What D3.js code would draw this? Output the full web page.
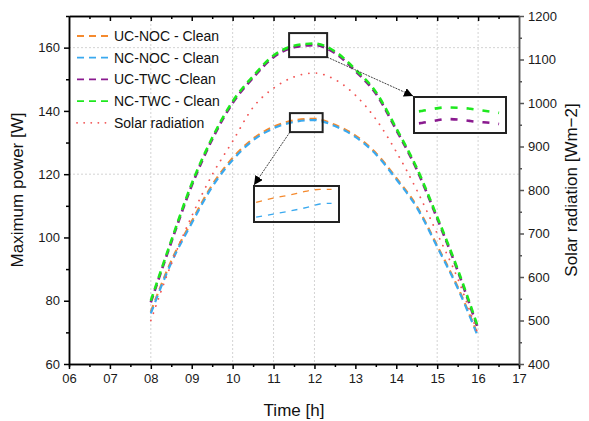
<!DOCTYPE html>
<html>
<head>
<meta charset="utf-8">
<script src="https://cdn.jsdelivr.net/npm/d3@7"></script>
<style>
  html, body { margin: 0; padding: 0; background: #fff; }
  svg { display: block; font-family: "Liberation Sans", Arial, sans-serif; }
</style>
</head>
<body>
<svg id="chart" width="589" height="421"></svg>
<script>
// ---------------- data ----------------
const times   = [8, 8.5, 9, 9.5, 10, 10.5, 11, 11.5, 12, 12.5, 13, 13.5, 14, 14.5, 15, 15.5, 16];
const ucNoc   = [76.5, 92.6, 105.1, 116.6, 125.1, 131.2, 135.0, 137.0, 137.5, 135.6, 132.2, 126.7, 118.8, 109.9, 97.4, 84.4, 69.0];
const ncNoc   = [76.0, 92.0, 104.5, 116.0, 124.5, 130.7, 134.5, 136.5, 137.1, 135.2, 131.8, 126.3, 118.4, 109.5, 97.0, 84.0, 68.6];
const ucTwc   = [79.5, 98.5, 116.4, 131.0, 142.5, 150.5, 157.0, 160.1, 160.8, 158.3, 152.6, 145.5, 134.0, 121.5, 106.0, 89.5, 71.0];
const ncTwc   = [80.0, 99.0, 117.0, 131.5, 143.0, 151.0, 157.5, 160.6, 161.3, 158.8, 153.1, 146.0, 134.5, 122.0, 106.5, 90.0, 71.5];
const solar   = [500, 630, 740, 835, 912, 990, 1034, 1060, 1069, 1054, 1018, 963, 888, 800, 700, 597, 467];

const seriesNames = ["UC-NOC - Clean", "NC-NOC - Clean", "UC-TWC -Clean", "NC-TWC - Clean", "Solar radiation"];

const xTicks      = [6, 7, 8, 9, 10, 11, 12, 13, 14, 15, 16, 17];
const xMinor      = [6.5, 7.5, 8.5, 9.5, 10.5, 11.5, 12.5, 13.5, 14.5, 15.5, 16.5];
const yLeftTicks  = [60, 80, 100, 120, 140, 160];
const yLeftMinor  = [70, 90, 110, 130, 150, 170];
const yRightTicks = [400, 500, 600, 700, 800, 900, 1000, 1100, 1200];
const yRightMinor = [450, 550, 650, 750, 850, 950, 1050, 1150];
const xGrid       = [8, 10, 11, 12, 15, 16];
const yGrid       = [120, 160];

// magnified inset views
const insetTopTimes = [11.43, 11.46, 11.67, 11.69, 11.93, 11.95, 12.18, 12.24];
const insetTopNC    = [161.0, 161.03, 161.27, 161.28, 161.20, 161.18, 160.96, 160.9];
const insetTopUC    = [160.17, 160.2, 160.45, 160.47, 160.35, 160.33, 160.18, 160.13];
const insetBotTimes = [11.42, 11.58, 11.74, 11.90, 12.02, 12.13];
const insetBotUC    = [136.82, 136.99, 137.13, 137.29, 137.36, 137.36];
const insetBotNC    = [136.20, 136.33, 136.46, 136.61, 136.75, 136.78];

// ---------------- layout ----------------
const L = 69, R = 519, T = 16, B = 364;
const colors = { ucNoc: "#f58a2e", ncNoc: "#3aa9ef", ucTwc: "#8a1a8f", ncTwc: "#1ee81e", solar: "#f25656" };

const svg = d3.select("#chart");
const x  = d3.scaleLinear().domain([6, 17]).range([L, R]);
const yL = d3.scaleLinear().domain([60, 170]).range([B, T]);
const yR = d3.scaleLinear().domain([400, 1200]).range([B, T]);

// grid
const grid = svg.append("g").attr("stroke", "#c8c8c8").attr("stroke-width", 0.8).attr("stroke-dasharray", "2,2");
grid.selectAll("line.vx").data(xGrid).join("line")
  .attr("x1", d => x(d)).attr("x2", d => x(d)).attr("y1", T).attr("y2", B);
grid.selectAll("line.hy").data(yGrid).join("line")
  .attr("x1", L).attr("x2", R).attr("y1", d => yL(d)).attr("y2", d => yL(d));

// axes
function styleAxis(g, color, width) {
  g.select(".domain").attr("stroke", color).attr("stroke-width", width);
  g.selectAll(".tick line").attr("stroke", color).attr("stroke-width", width);
  g.selectAll(".tick text").attr("fill", "#1a1a1a").style("font-size", "13px").style("font-family", "Liberation Sans, Arial, sans-serif");
}
const fmt2 = d => String(d).padStart(2, "0");
const fmtInt = d3.format("d");

// bottom
svg.append("g").attr("transform", `translate(0,${B})`)
  .call(d3.axisBottom(x).tickValues(xMinor).tickSize(3).tickFormat(""))
  .call(g => styleAxis(g, "#000", 1.5));
svg.append("g").attr("transform", `translate(0,${B})`)
  .call(d3.axisBottom(x).tickValues(xTicks).tickSize(5).tickSizeOuter(0).tickPadding(5).tickFormat(fmt2))
  .call(g => styleAxis(g, "#000", 1.5));
// top (ticks inward)
svg.append("g").attr("transform", `translate(0,${T})`)
  .call(d3.axisBottom(x).tickValues(xMinor).tickSize(3).tickSizeOuter(0).tickFormat(""))
  .call(g => styleAxis(g, "#000", 1.5));
svg.append("g").attr("transform", `translate(0,${T})`)
  .call(d3.axisBottom(x).tickValues(xTicks.slice(1, -1)).tickSize(5).tickSizeOuter(0).tickFormat(""))
  .call(g => styleAxis(g, "#000", 1.5));
// left
svg.append("g").attr("transform", `translate(${L},0)`)
  .call(d3.axisLeft(yL).tickValues(yLeftMinor).tickSize(3).tickSizeOuter(0).tickFormat(""))
  .call(g => styleAxis(g, "#000", 1.5));
svg.append("g").attr("transform", `translate(${L},0)`)
  .call(d3.axisLeft(yL).tickValues(yLeftTicks).tickSize(5).tickSizeOuter(0).tickPadding(4).tickFormat(fmtInt))
  .call(g => styleAxis(g, "#000", 1.5));
// right
svg.append("g").attr("transform", `translate(${R},0)`)
  .call(d3.axisRight(yR).tickValues(yRightMinor).tickSize(3).tickSizeOuter(0).tickFormat(""))
  .call(g => styleAxis(g, "#555", 1.5));
svg.append("g").attr("transform", `translate(${R},0)`)
  .call(d3.axisRight(yR).tickValues(yRightTicks).tickSize(5).tickSizeOuter(0).tickPadding(4).tickFormat(fmtInt))
  .call(g => styleAxis(g, "#555", 1.5));

// axis titles
svg.append("text").attr("x", (L + R) / 2).attr("y", 416).attr("text-anchor", "middle")
  .style("font-size", "17px").attr("fill", "#111").text("Time [h]");
svg.append("text").attr("transform", `translate(23,${(T + B) / 2}) rotate(-90)`).attr("text-anchor", "middle")
  .style("font-size", "17px").attr("fill", "#111").text("Maximum power [W]");
svg.append("text").attr("transform", `translate(577,${(T + B) / 2}) rotate(-90)`).attr("text-anchor", "middle")
  .style("font-size", "17px").attr("fill", "#111").text("Solar radiation [Wm\u22122]");

// series
const styles = [
  { key: "ucNoc", data: ucNoc, scale: yL, width: 2.2, dash: "7,5", cap: "butt" },
  { key: "ncNoc", data: ncNoc, scale: yL, width: 2.2, dash: "7,5", cap: "butt" },
  { key: "ucTwc", data: ucTwc, scale: yL, width: 2.6, dash: "7,5", cap: "butt" },
  { key: "ncTwc", data: ncTwc, scale: yL, width: 2.6, dash: "7,5", cap: "butt" },
  { key: "solar", data: solar, scale: yR, width: 1.8, dash: "0.1,7.5", cap: "round" }
];
styles.forEach(s => {
  const line = d3.line().x((d, i) => x(times[i])).y(d => s.scale(d)).curve(d3.curveMonotoneX);
  svg.append("path").datum(s.data).attr("d", line)
    .attr("fill", "none").attr("stroke", colors[s.key]).attr("stroke-width", s.width)
    .attr("stroke-dasharray", s.dash).attr("stroke-linecap", s.cap);
});

// legend
const legend = svg.append("g");
styles.forEach((s, i) => {
  const yy = 36 + i * 21.7;
  legend.append("line").attr("x1", 77).attr("x2", 110).attr("y1", yy).attr("y2", yy)
    .attr("stroke", colors[s.key]).attr("stroke-width", 1.8)
    .attr("stroke-dasharray", s.key === "solar" ? "0.1,7" : "7,5").attr("stroke-linecap", s.cap);
  legend.append("text").attr("x", 114).attr("y", yy + 5).style("font-size", "14px").attr("fill", "#111")
    .text(seriesNames[i]);
});

// ---------------- zoom insets ----------------
const defs = svg.append("defs");
defs.append("marker").attr("id", "arrow").attr("viewBox", "0 0 10 10")
  .attr("refX", 10).attr("refY", 5).attr("markerWidth", 9).attr("markerHeight", 9)
  .attr("markerUnits", "userSpaceOnUse").attr("orient", "auto")
  .append("path").attr("d", "M0,0 L10,5 L0,10 z").attr("fill", "#000");

function rectFrom(x0, y0, x1, y1) { return { x0, y0, x1, y1 }; }
const box1 = rectFrom(x(11.38), yL(164.6), x(12.31), yL(157.0));
const box3 = rectFrom(x(11.40), yL(139.3), x(12.20), yL(133.3));
const box2 = rectFrom(414, 97, 506, 133);
const box4 = rectFrom(254, 186, 339, 222);

function drawBox(b, color) {
  svg.append("rect").attr("x", b.x0).attr("y", b.y0).attr("width", b.x1 - b.x0).attr("height", b.y1 - b.y0)
    .attr("fill", "none").attr("stroke", color).attr("stroke-width", 2);
}
svg.append("line").attr("x1", box1.x1).attr("y1", box1.y1).attr("x2", box2.x0 - 1).attr("y2", box2.y0 - 1)
  .attr("stroke", "#444").attr("stroke-width", 1).attr("stroke-dasharray", "2,1").attr("marker-end", "url(#arrow)");
svg.append("line").attr("x1", box3.x0).attr("y1", box3.y1).attr("x2", box4.x0).attr("y2", box4.y0 - 1)
  .attr("stroke", "#444").attr("stroke-width", 1).attr("stroke-dasharray", "2,1").attr("marker-end", "url(#arrow)");

defs.append("clipPath").attr("id", "clip2").append("rect")
  .attr("x", box2.x0).attr("y", box2.y0).attr("width", box2.x1 - box2.x0).attr("height", box2.y1 - box2.y0);
defs.append("clipPath").attr("id", "clip4").append("rect")
  .attr("x", box4.x0).attr("y", box4.y0).attr("width", box4.x1 - box4.x0).attr("height", box4.y1 - box4.y0);

const xi2 = d3.scaleLinear().domain([11.38, 12.31]).range([box2.x0, box2.x1]);
const yi2 = d3.scaleLinear().domain([159.5, 162.0]).range([box2.y1, box2.y0]);
const g2 = svg.append("g").attr("clip-path", "url(#clip2)");
[[insetTopUC, colors.ucTwc], [insetTopNC, colors.ncTwc]].forEach(([arr, c]) => {
  g2.append("path").datum(arr)
    .attr("d", d3.line().x((d, i) => xi2(insetTopTimes[i])).y(d => yi2(d)).curve(d3.curveMonotoneX))
    .attr("fill", "none").attr("stroke", c).attr("stroke-width", 2.6).attr("stroke-dasharray", "7,9");
});

const xi4 = d3.scaleLinear().domain([11.40, 12.20]).range([box4.x0, box4.x1]);
const yi4 = d3.scaleLinear().domain([136.0, 137.5]).range([box4.y1, box4.y0]);
const g4 = svg.append("g").attr("clip-path", "url(#clip4)");
[[insetBotUC, colors.ucNoc], [insetBotNC, colors.ncNoc]].forEach(([arr, c]) => {
  g4.append("path").datum(arr)
    .attr("d", d3.line().x((d, i) => xi4(insetBotTimes[i])).y(d => yi4(d)).curve(d3.curveMonotoneX))
    .attr("fill", "none").attr("stroke", c).attr("stroke-width", 1.3).attr("stroke-dasharray", "6,6");
});

drawBox(box1, "#222");
drawBox(box3, "#222");
drawBox(box2, "#222");
drawBox(box4, "#222");
</script>
</body>
</html>
